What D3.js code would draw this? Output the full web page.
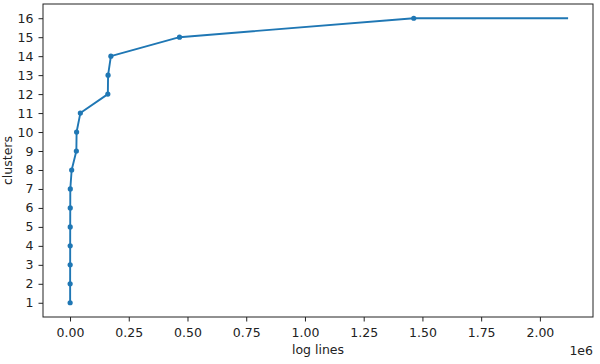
<!DOCTYPE html>
<html>
<head>
<meta charset="utf-8">
<script src="https://cdn.jsdelivr.net/npm/d3@7"></script>
<style>
  body { margin: 0; background: #fff; }
  svg { font-family: "DejaVu Sans", sans-serif; }
</style>
</head>
<body>
<svg id="chart"></svg>
<script>
// clusters found vs. number of log lines (x in units of 1e6)
const clusters = [1, 2, 3, 4, 5, 6, 7, 8, 9, 10, 11, 12, 13, 14, 15, 16];
const logLines = [0.0005, 0.0005, 0.0006, 0.0007, 0.0008, 0.001, 0.0012, 0.007,
    0.027, 0.028, 0.044, 0.161, 0.162, 0.174, 0.466, 1.463];
// the line runs on to the end of the data without a marker
const tailLines = [1.463, 2.12];
const tailClusters = [16, 16];

const xTicks = [0, 0.25, 0.5, 0.75, 1, 1.25, 1.5, 1.75, 2];
const yTicks = d3.range(1, 17);

const width = 600;
const height = 364;
const margin = {top: 4, right: 7, bottom: 47, left: 43};

const points = clusters.map((c, i) => ({ abs: logLines[i], ord: c }));
const tail = tailClusters.map((c, i) => ({ abs: tailLines[i], ord: c }));

const x = d3.scaleLinear()
    .domain([-0.115, 2.226])
    .range([margin.left, width - margin.right]);

const y = d3.scaleLinear()
    .domain([0.25, 16.75])
    .range([height - margin.bottom, margin.top]);

const line = d3.line()
    .x(({ abs }) => x(abs))
    .y(({ ord }) => y(ord));

const svg = d3.select('#chart')
    .attr("width", width)
    .attr("height", height)
    .attr("viewBox", [0, 0, width, height]);

const blue = "#1f77b4";

svg.append("path")
    .datum(points.concat(tail.slice(1)))
    .attr("fill", "none")
    .attr("stroke", blue)
    .attr("stroke-width", 1.9)
    .attr("stroke-linejoin", "round")
    .attr("stroke-linecap", "butt")
    .attr("d", line);

svg.append("g")
    .selectAll("circle")
    .data(points)
    .join("circle")
    .attr("cx", d => x(d.abs))
    .attr("cy", d => y(d.ord))
    .attr("r", 2.6)
    .attr("fill", blue);

const xAxis = g => g
    .attr("transform", `translate(0,${height - margin.bottom})`)
    .call(d3.axisBottom(x).tickValues(xTicks).tickFormat(d3.format(".2f"))
        .tickSize(4.5).tickPadding(6.5).tickSizeOuter(0))
    .call(g => g.select(".domain").remove());

const yAxis = g => g
    .attr("transform", `translate(${margin.left},0)`)
    .call(d3.axisLeft(y).tickValues(yTicks).tickFormat(d3.format("d"))
        .tickSize(4.5).tickPadding(5).tickSizeOuter(0))
    .call(g => g.select(".domain").remove());

svg.append("g").call(xAxis);
svg.append("g").call(yAxis);

svg.selectAll(".tick text")
    .attr("font-family", "DejaVu Sans, sans-serif")
    .attr("font-size", 12.5)
    .attr("fill", "#222");
svg.selectAll(".tick line")
    .attr("stroke", "#222")
    .attr("stroke-width", 1);

// frame
svg.append("rect")
    .attr("x", margin.left)
    .attr("y", margin.top)
    .attr("width", width - margin.left - margin.right)
    .attr("height", height - margin.top - margin.bottom)
    .attr("fill", "none")
    .attr("stroke", "#222")
    .attr("stroke-width", 1);

svg.append("text")
    .attr("x", (margin.left + width - margin.right) / 2)
    .attr("y", 353.5)
    .attr("text-anchor", "middle")
    .attr("font-size", 12.5)
    .attr("fill", "#222")
    .text("log lines");

svg.append("text")
    .attr("x", width - margin.right)
    .attr("y", 354.5)
    .attr("text-anchor", "end")
    .attr("font-size", 12.5)
    .attr("fill", "#222")
    .text("1e6");

svg.append("text")
    .attr("transform", `translate(11.5,${(margin.top + height - margin.bottom) / 2}) rotate(-90)`)
    .attr("text-anchor", "middle")
    .attr("font-size", 12.5)
    .attr("fill", "#222")
    .text("clusters");
</script>
</body>
</html>
